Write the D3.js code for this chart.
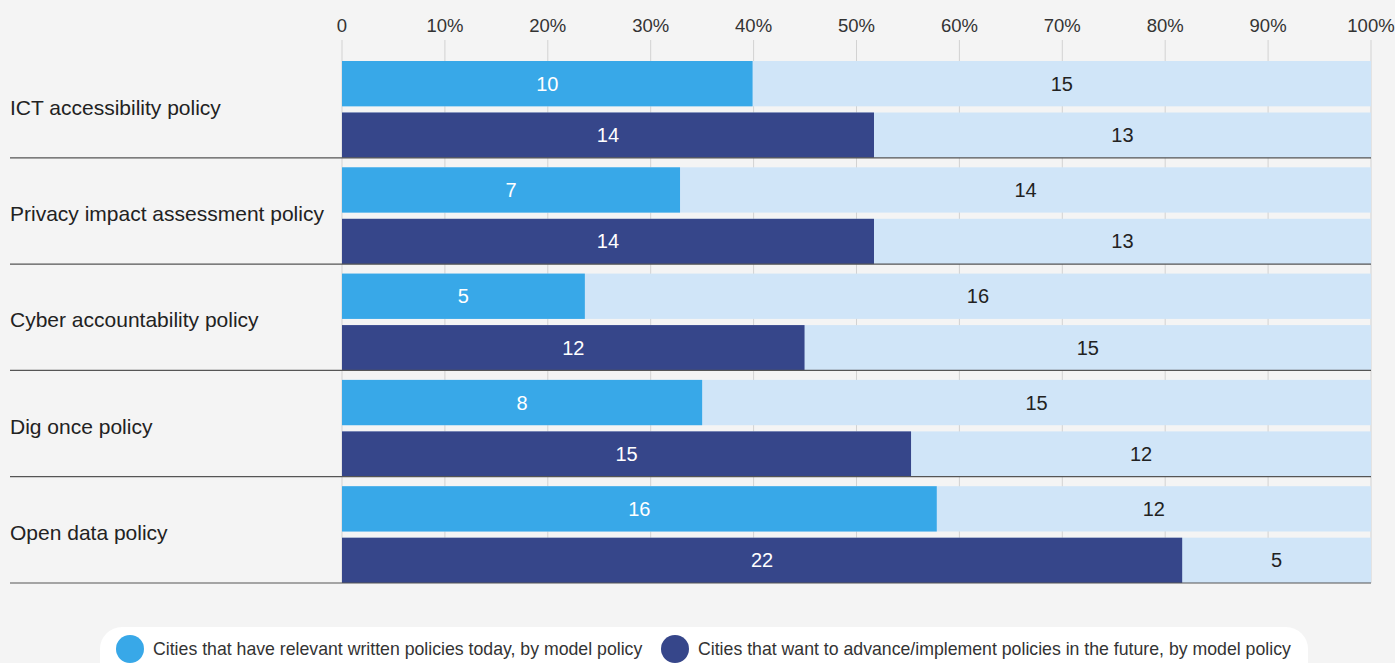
<!DOCTYPE html>
<html>
<head>
<meta charset="utf-8">
<script src="https://cdn.jsdelivr.net/npm/d3@7"></script>
<style>
  body { margin: 0; background: #f4f4f4; }
  svg { display: block; font-family: "Liberation Sans", Arial, sans-serif; }
</style>
</head>
<body>
<div id="chart-area"></div>
<script>
var categories = ["ICT accessibility policy", "Privacy impact assessment policy",
  "Cyber accountability policy", "Dig once policy", "Open data policy"];
var series = ["today", "future"];
var seriesNames = ["Cities that have relevant written policies today, by model policy",
  "Cities that want to advance/implement policies in the future, by model policy"];
// labels: [yes, remainder] per category
var todayValues = [[10, 15], [7, 14], [5, 16], [8, 15], [16, 12]];
var futureValues = [[14, 13], [14, 13], [12, 15], [15, 12], [22, 5]];
// bar share as drawn in the picture
var todayShare = [0.399, 0.3285, 0.236, 0.35, 0.578];
var futureShare = [0.517, 0.517, 0.4495, 0.553, 0.8165];
var tickValues = [0, 0.1, 0.2, 0.3, 0.4, 0.5, 0.6, 0.7, 0.8, 0.9, 1];

var width = 1395, height = 663;
var colors = { today: "#38a8e8", future: "#36468a", rest: "#d0e5f8" };

var svg = d3.select("#chart-area").append("svg")
    .attr("width", width)
    .attr("height", height);

svg.append("rect").attr("width", width).attr("height", height).attr("fill", "#f4f4f4");

var x = d3.scaleLinear().domain([0, 1]).range([342, 1371]);

var y = d3.scaleBand()
    .domain(categories)
    .range([51.5, 583])
    .padding(0);

var ySub = d3.scaleBand()
    .domain(series)
    .range([9.5, y.bandwidth()])
    .paddingInner(0.12)
    .paddingOuter(0);

// grid + tick labels
svg.append("g")
  .selectAll("line")
  .data(tickValues)
  .enter().append("line")
    .attr("x1", d => x(d)).attr("x2", d => x(d))
    .attr("y1", 40).attr("y2", 583)
    .attr("stroke", "#d2d2d2")
    .attr("stroke-width", 1);

svg.append("g")
  .selectAll("text")
  .data(tickValues)
  .enter().append("text")
    .attr("x", d => x(d))
    .attr("y", 32)
    .attr("text-anchor", "middle")
    .attr("font-size", 18.5)
    .attr("fill", "#333")
    .text(d => d === 0 ? "0" : d3.format(".0%")(d));

var rows = [];
categories.forEach((c, i) => {
  rows.push({ cat: c, s: "today", yes: todayValues[i][0], rest: todayValues[i][1], share: todayShare[i] });
  rows.push({ cat: c, s: "future", yes: futureValues[i][0], rest: futureValues[i][1], share: futureShare[i] });
});

var bars = svg.append("g").selectAll("g")
    .data(rows)
    .enter().append("g")
    .attr("transform", d => "translate(0," + (y(d.cat) + ySub(d.s)) + ")");

bars.append("rect")
    .attr("x", x(0))
    .attr("width", x(1) - x(0))
    .attr("height", ySub.bandwidth())
    .attr("fill", colors.rest);

bars.append("rect")
    .attr("x", x(0))
    .attr("width", d => x(d.share) - x(0))
    .attr("height", ySub.bandwidth())
    .attr("fill", d => colors[d.s]);

bars.append("text")
    .attr("x", d => (x(0) + x(d.share)) / 2)
    .attr("y", ySub.bandwidth() / 2 + 7)
    .attr("text-anchor", "middle")
    .attr("font-size", 20)
    .attr("fill", "#fff")
    .text(d => d.yes);

bars.append("text")
    .attr("x", d => (x(d.share) + x(1)) / 2)
    .attr("y", ySub.bandwidth() / 2 + 7)
    .attr("text-anchor", "middle")
    .attr("font-size", 20)
    .attr("fill", "#222")
    .text(d => d.rest);

// separators and category labels
svg.append("g").selectAll("line")
    .data(categories)
    .enter().append("line")
    .attr("x1", 10).attr("x2", x(1))
    .attr("y1", d => y(d) + y.bandwidth()).attr("y2", d => y(d) + y.bandwidth())
    .attr("stroke", "#555")
    .attr("stroke-width", 1.2);

svg.append("g").selectAll("text")
    .data(categories)
    .enter().append("text")
    .attr("x", 10)
    .attr("y", d => y(d) + y.bandwidth() / 2 + 10)
    .attr("font-size", 21)
    .attr("fill", "#222")
    .text(d => d);

// legend
var legend = svg.append("g");
legend.append("rect")
    .attr("x", 100).attr("y", 627)
    .attr("width", 1208).attr("height", 60)
    .attr("rx", 22)
    .attr("fill", "#fff");

var legendX = [130, 675];
series.forEach((s, i) => {
  legend.append("circle")
    .attr("cx", legendX[i]).attr("cy", 649).attr("r", 14)
    .attr("fill", colors[s]);
  legend.append("text")
    .attr("x", legendX[i] + 23).attr("y", 655)
    .attr("font-size", 17.7)
    .attr("fill", "#333")
    .text(seriesNames[i]);
});
</script>
</body>
</html>
